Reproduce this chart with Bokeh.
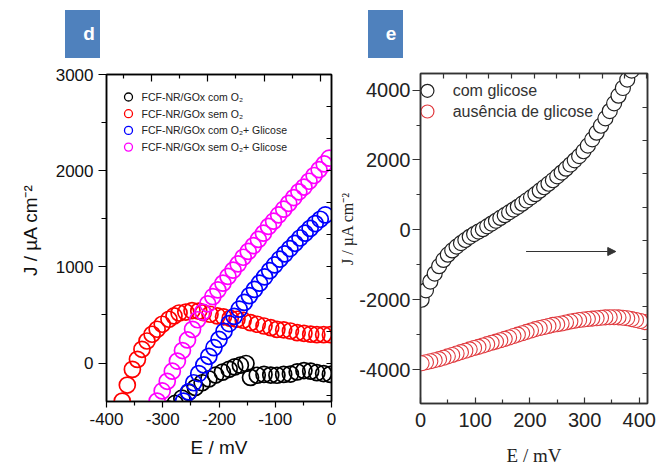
from bokeh.plotting import figure
from bokeh.models import (Range1d, LinearAxis, FixedTicker, Label, Arrow, NormalHead, Div,
                          PrintfTickFormatter)
from bokeh.layouts import row, column
from bokeh.embed import file_html
from bokeh.resources import INLINE

# ---------------- panel d data (E / mV, J / uA cm-2) ----------------
d_com_o2_E = [-290, -278, -266, -254, -242, -230, -218, -206, -194, -182, -172, -162, -152,
              -144, -132, -120, -108, -97, -85, -73, -61, -49, -37, -26, -14, -2]
d_com_o2_J = [-480, -420, -365, -305, -255, -205, -165, -125, -95, -65, -40, -22, -5,
              -150, -127, -118, -125, -127, -118, -115, -92, -78, -85, -100, -110, -118]

d_sem_o2_E = [-378, -372, -363, -354, -345, -337, -328, -319, -310, -301, -289, -280, -271,
              -259, -248, -236, -228, -216, -203, -192, -180, -168, -157, -144, -132, -120,
              -108, -97, -85, -73, -61, -49, -37, -26, -14, -2]
d_sem_o2_J = [-500, -396, -229, -66, 38, 143, 229, 299, 351, 403, 455, 490, 520,
              530, 545, 540, 525, 507, 490, 480, 465, 455, 445, 420, 403, 385,
              368, 350, 345, 333, 316, 309, 300, 295, 295, 295]

d_com_o2_gli_E = [-263, -254, -245, -236, -227, -218, -209, -200, -191, -182, -173, -164, -155,
                  -146, -137, -128, -119, -110, -101, -92, -83, -74, -65, -56, -47, -38, -29,
                  -20, -11]
d_com_o2_gli_J = [-396, -300, -205, -110, -20, 70, 160, 245, 330, 410, 485, 560, 630,
                  700, 765, 830, 895, 960, 1020, 1080, 1135, 1190, 1245, 1300, 1350, 1400, 1450,
                  1495, 1540]

d_sem_o2_gli_E = [-310, -301, -292, -283, -274, -265, -256, -247, -238, -229, -220, -211, -202,
                  -193, -184, -175, -166, -157, -148, -139, -130, -121, -112, -103, -94, -85,
                  -76, -67, -58, -49, -40, -31, -22, -13, -4]
d_sem_o2_gli_J = [-396, -290, -190, -85, 20, 130, 240, 350, 450, 530, 615, 690, 760,
                  830, 900, 965, 1030, 1100, 1160, 1220, 1285, 1350, 1420, 1475, 1540, 1600,
                  1660, 1720, 1780, 1830, 1890, 1950, 2010, 2070, 2130]

d_labels = ["FCF-NR/GOx com O\u2082", "FCF-NR/GOx sem O\u2082",
            "FCF-NR/GOx com O\u2082+ Glicose", " FCF-NR/GOx sem O\u2082+ Glicose"]
d_colors = ["#000000", "#ff0000", "#0000ff", "#ff00ff"]
d_xticks = [-400, -300, -200, -100, 0]
d_yticks = [0, 1000, 2000, 3000]

# ---------------- panel e data ----------------
e_com_E = [2, 10, 18, 26, 34, 42, 50, 58, 66, 74, 82, 90, 98, 106, 114, 122, 130, 138, 146,
           154, 162, 170, 178, 186, 194, 202, 210, 218, 226, 234, 242, 250, 258, 266, 274,
           282, 290, 298, 306, 314, 322, 330, 338, 346, 354, 362, 370, 378, 386]
e_com_J = [-2000, -1730, -1480, -1250, -1040, -860, -710, -590, -480, -380, -290, -200, -120,
           -50, 20, 100, 180, 260, 340, 420, 500, 580, 660, 750, 840, 930, 1020, 1120, 1220,
           1320, 1420, 1530, 1640, 1750, 1870, 1990, 2110, 2250, 2410, 2590, 2780, 2980,
           3190, 3400, 3620, 3840, 4060, 4300, 4560]

e_sem_E = [410, 402, 394, 386, 378, 370, 362, 354, 346, 338, 330, 322, 314, 306, 298, 290,
           282, 274, 266, 258, 250, 242, 234, 226, 218, 210, 202, 194, 186, 178, 170, 162,
           154, 146, 138, 130, 122, 114, 106, 98, 90, 82, 74, 66, 58, 50, 42, 34, 26, 18, 10, 2]
e_sem_J = [-2640, -2610, -2580, -2555, -2530, -2515, -2505, -2500, -2500, -2505, -2515, -2530,
           -2540, -2550, -2565, -2580, -2600, -2625, -2650, -2680, -2700, -2720, -2750, -2780,
           -2810, -2840, -2880, -2920, -2960, -3000, -3040, -3080, -3120, -3160, -3200, -3230,
           -3270, -3310, -3350, -3380, -3420, -3460, -3500, -3540, -3580, -3620, -3660, -3700,
           -3730, -3760, -3790, -3820]

e_labels = ["com glicose", "aus\u00eancia de glicose"]
e_colors = ["#222222", "#e0393e"]
e_xticks = [0, 100, 200, 300, 400]
e_yticks = [-4000, -2000, 0, 2000, 4000]
e_arrow_E = [193, 357]
e_arrow_J = [-620, -620]

SANS = "Liberation Sans"
SERIF = "Liberation Serif"
NB = "\u00a0"


def hide_labels(ax):
    ax.major_label_text_font_size = "0px"
    ax.major_label_text_color = None
    ax.major_label_standoff = 0


def frac_x(rng, f):
    return rng.start + f * (rng.end - rng.start)


def frac_y(rng, f_from_top):
    return rng.end - f_from_top * (rng.end - rng.start)


def panel_tag(letter, width, box_left, pad_left):
    html = ('<div style="margin-left:%dpx;margin-top:10px;width:35px;height:48px;'
            'background:#4f81bd;color:#ffffff;font:bold 19px \'Liberation Sans\',sans-serif;'
            'display:flex;align-items:center;justify-content:center;box-sizing:border-box;'
            'padding-left:%dpx;">%s</div>') % (box_left, pad_left, letter)
    return Div(text=html, width=width, height=60, margin=0)


# ================= panel d =================
x1 = Range1d(-400, 0)
y1 = Range1d(-400, 3000)
p1 = figure(width=336, height=410, output_backend="svg", toolbar_location=None,
            x_range=x1, y_range=y1,
            min_border_left=106, min_border_right=5, min_border_top=14, min_border_bottom=69)
p1.grid.visible = False
p1.outline_line_color = "#000000"
p1.outline_line_width = 1.5

for ax in (p1.xaxis[0], p1.yaxis[0]):
    ax.axis_line_width = 1.5
    ax.axis_line_color = "#000000"
    ax.major_tick_line_color = "#000000"
    ax.minor_tick_line_color = "#000000"
    ax.major_tick_line_width = 1.2
    ax.minor_tick_line_width = 1.2
    ax.major_label_text_font = SANS
    ax.major_label_text_font_size = "17px"
    ax.major_label_text_color = "#111111"
    ax.major_tick_in = 0
    ax.minor_tick_in = 0
    ax.formatter = PrintfTickFormatter(format="%d")
    ax.axis_label_text_font = SANS
    ax.axis_label_text_font_size = "19px"
    ax.axis_label_text_font_style = "normal"
    ax.axis_label_text_color = "#111111"
p1.xaxis[0].ticker = FixedTicker(ticks=d_xticks, minor_ticks=[-350, -250, -150, -50])
p1.yaxis[0].ticker = FixedTicker(ticks=d_yticks, minor_ticks=[500, 1500, 2500])
p1.xaxis[0].major_tick_out = 6
p1.xaxis[0].minor_tick_out = 4
p1.xaxis[0].major_label_standoff = 5
p1.xaxis[0].axis_label = "E / mV"
p1.xaxis[0].axis_label_standoff = 9
p1.yaxis[0].major_tick_out = 8
p1.yaxis[0].minor_tick_out = 5
p1.yaxis[0].major_label_standoff = 5
p1.yaxis[0].axis_label = NB * 3 + "J / \u00b5A cm\u207b\u00b2"
p1.yaxis[0].axis_label_standoff = 12

top1 = LinearAxis(ticker=FixedTicker(ticks=[-320, -220, -120, -20], minor_ticks=[-370, -270, -170, -70]),
                  major_tick_in=7, major_tick_out=0, minor_tick_in=4, minor_tick_out=0,
                  axis_line_width=1.5, major_tick_line_width=1.2, minor_tick_line_width=1.2)
hide_labels(top1)
p1.add_layout(top1, "above")
right1 = LinearAxis(ticker=FixedTicker(ticks=[-333, 0, 333, 667, 1000, 1333, 1667, 2000, 2333, 2667]),
                    major_tick_in=5, major_tick_out=0, minor_tick_in=0, minor_tick_out=0,
                    axis_line_width=1.5, major_tick_line_width=1.2)
hide_labels(right1)
p1.add_layout(right1, "right")

d_series = [(d_com_o2_E, d_com_o2_J), (d_sem_o2_E, d_sem_o2_J),
            (d_com_o2_gli_E, d_com_o2_gli_J), (d_sem_o2_gli_E, d_sem_o2_gli_J)]
for (xs, ys), col in zip(d_series, d_colors):
    p1.scatter(xs, ys, marker="circle", size=16, fill_alpha=0, line_color=col, line_width=1.7)

# legend of panel d (drawn inside the frame)
leg1_mx = frac_x(x1, 22 / 225)
leg1_tx = frac_x(x1, 35 / 225)
leg1_rows = [frac_y(y1, f / 327) for f in (22.5, 39.2, 55.9, 72.6)]
p1.scatter([leg1_mx] * 4, leg1_rows, marker="circle", size=8, fill_alpha=0,
           line_color=d_colors, line_width=1.3)
for lab, yy in zip(d_labels, leg1_rows):
    p1.add_layout(Label(x=leg1_tx, y=yy, text=lab, text_font=SANS, text_font_size="10.5px",
                        text_color="#222222", text_baseline="middle", text_align="left"))

# ================= panel e =================
x2 = Range1d(0, 415)
y2 = Range1d(-4970, 4475)
p2 = figure(width=322, height=412, output_backend="svg", toolbar_location=None,
            x_range=x2, y_range=y2,
            min_border_left=82, min_border_right=11, min_border_top=13, min_border_bottom=69)
p2.grid.visible = False
p2.outline_line_color = "#333333"
p2.outline_line_width = 1.5

for ax in (p2.xaxis[0], p2.yaxis[0]):
    ax.axis_line_width = 1.5
    ax.axis_line_color = "#333333"
    ax.major_tick_line_color = "#333333"
    ax.minor_tick_line_color = "#333333"
    ax.major_tick_line_width = 1.2
    ax.minor_tick_line_width = 1.2
    ax.major_label_text_font = SANS
    ax.major_label_text_font_size = "20px"
    ax.major_label_text_color = "#222222"
    ax.formatter = PrintfTickFormatter(format="%d")
    ax.axis_label_text_font = SERIF
    ax.axis_label_text_font_style = "normal"
    ax.axis_label_text_color = "#222222"
p2.xaxis[0].ticker = FixedTicker(ticks=e_xticks, minor_ticks=[50, 150, 250, 350])
p2.yaxis[0].ticker = FixedTicker(ticks=e_yticks, minor_ticks=[-3000, -1000, 1000, 3000])
p2.xaxis[0].major_tick_in = 6
p2.xaxis[0].major_tick_out = 0
p2.xaxis[0].minor_tick_in = 4
p2.xaxis[0].minor_tick_out = 0
p2.xaxis[0].major_label_standoff = 9
p2.xaxis[0].axis_label = "E / mV"
p2.xaxis[0].axis_label_text_font_size = "19px"
p2.xaxis[0].axis_label_standoff = 15
p2.yaxis[0].major_tick_in = 0
p2.yaxis[0].major_tick_out = 8
p2.yaxis[0].minor_tick_in = 0
p2.yaxis[0].minor_tick_out = 4
p2.yaxis[0].major_label_standoff = 2
p2.yaxis[0].axis_label = NB * 5 + "J / \u00b5A cm\u207b\u00b2"
p2.yaxis[0].axis_label_text_font_size = "16px"
p2.yaxis[0].axis_label_standoff = 0

top2 = LinearAxis(ticker=FixedTicker(ticks=[42, 84, 125, 166, 208, 249, 290, 332, 373, 414]),
                  major_tick_in=5, major_tick_out=0, minor_tick_in=0, minor_tick_out=0,
                  axis_line_width=1.5, axis_line_color="#333333", major_tick_line_color="#333333",
                  major_tick_line_width=1.2)
hide_labels(top2)
p2.add_layout(top2, "above")
right2 = LinearAxis(ticker=FixedTicker(ticks=[-4100, -3150, -2200, -1250, -300, 650, 1600, 2550, 3500]),
                    major_tick_in=5, major_tick_out=0, minor_tick_in=0, minor_tick_out=0,
                    axis_line_width=1.5, axis_line_color="#333333", major_tick_line_color="#333333",
                    major_tick_line_width=1.2)
hide_labels(right2)
p2.add_layout(right2, "right")

p2.scatter(e_com_E, e_com_J, marker="circle", size=15, fill_color="white",
           line_color=e_colors[0], line_width=1.2)
p2.scatter(e_sem_E, e_sem_J, marker="circle", size=15, fill_color="white",
           line_color=e_colors[1], line_width=1.1)

# legend of panel e
leg2_mx = frac_x(x2, 7 / 229)
leg2_tx = frac_x(x2, 32.5 / 229)
leg2_rows = [frac_y(y2, f / 330) for f in (17.3, 38.0)]
p2.scatter([leg2_mx] * 2, leg2_rows, marker="circle", size=13, fill_color="white",
           line_color=e_colors, line_width=1.2)
for lab, yy in zip(e_labels, leg2_rows):
    p2.add_layout(Label(x=leg2_tx, y=yy, text=lab, text_font=SANS, text_font_size="16px",
                        text_color="#333333", text_baseline="middle", text_align="left"))

p2.add_layout(Arrow(x_start=e_arrow_E[0], y_start=e_arrow_J[0], x_end=e_arrow_E[1], y_end=e_arrow_J[1],
                    line_color="#333333", line_width=1,
                    end=NormalHead(size=8, fill_color="#333333", line_color="#333333")))

layout = row(column(panel_tag("d", 336, 65, 13), p1),
             column(panel_tag("e", 322, 32, 11), p2))
open("out.html", "w").write(file_html(layout, INLINE))
